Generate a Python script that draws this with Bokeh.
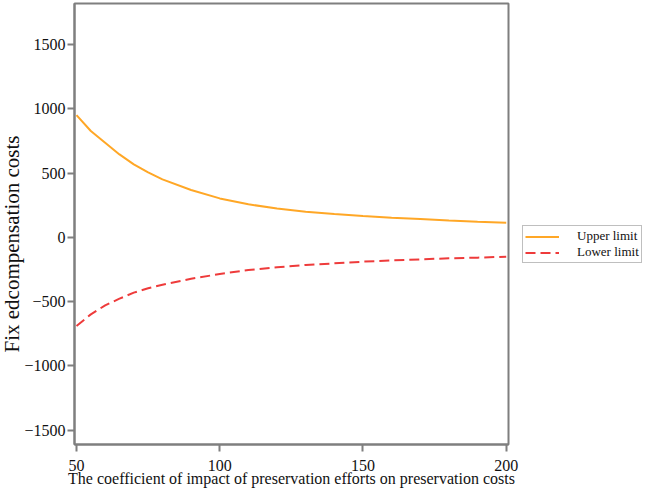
from bokeh.plotting import figure
from bokeh.models import Range1d, Legend, LegendItem, FixedTicker, Title
from bokeh.embed import file_html
from bokeh.resources import INLINE

x_vals = [50, 55, 60, 65, 70, 75, 80, 90, 100, 110, 120, 130, 140, 150, 160, 170, 180, 190, 200]
upper_limit = [951, 827, 736, 645, 568, 505, 451, 368, 303, 257, 225, 200, 181, 166, 153, 143, 132, 122, 114]
lower_limit = [-690, -599, -529, -477, -430, -396, -368, -322, -285, -254, -233, -215, -202, -189, -179, -171, -163, -158, -150]
x_ticks = [50, 100, 150, 200]
y_ticks = [-1500, -1000, -500, 0, 500, 1000, 1500]

FONT = "Liberation Serif"
AXIS_GRAY = "#7f7f7f"

p = figure(frame_width=434, frame_height=441, output_backend="svg", toolbar_location=None,
           x_range=Range1d(49.3, 200.8), y_range=Range1d(-1611, 1819),
           min_border_left=0, min_border_right=0, min_border_top=3, min_border_bottom=0)

p.xgrid.visible = False
p.ygrid.visible = False
p.outline_line_color = AXIS_GRAY
p.outline_line_width = 2

r_up = p.line(x_vals, upper_limit, line_color="#FFA726", line_width=2)
r_lo = p.line(x_vals, lower_limit, line_color="#EE3B3B", line_width=2, line_dash="10 5")

for ax in (p.xaxis[0], p.yaxis[0]):
    ax.axis_line_color = AXIS_GRAY
    ax.axis_line_width = 2
    ax.major_tick_line_color = AXIS_GRAY
    ax.major_tick_line_width = 2
    ax.major_tick_out = 7
    ax.major_tick_in = 0
    ax.minor_tick_line_color = None
    ax.major_label_text_font = FONT
    ax.major_label_text_font_size = "16px"
    ax.major_label_text_color = "#111111"
    ax.axis_label_text_font = FONT
    ax.axis_label_text_font_style = "normal"
    ax.axis_label_text_color = "#111111"

p.xaxis[0].ticker = FixedTicker(ticks=x_ticks)
p.yaxis[0].ticker = FixedTicker(ticks=y_ticks)
p.xaxis[0].axis_label = "The coefficient of impact of preservation efforts on preservation costs"
p.xaxis[0].axis_label_text_font_size = "16px"
p.xaxis[0].axis_label_standoff = -4
p.xaxis[0].major_label_standoff = 8
p.yaxis[0].major_label_standoff = 2

ytitle = Title(text="Fix edcompensation costs", align="left", offset=92,
               text_font=FONT, text_font_size="21px", text_font_style="normal",
               text_color="#111111", standoff=-5)
p.add_layout(ytitle, "left")

legend = Legend(items=[LegendItem(label="Upper limit", renderers=[r_up]),
                       LegendItem(label="Lower limit", renderers=[r_lo])],
                location=(14, 181), orientation="vertical")
legend.border_line_color = AXIS_GRAY
legend.border_line_width = 1
legend.padding = 2
legend.margin = 0
legend.spacing = 0
legend.glyph_width = 34
legend.glyph_height = 13
legend.label_height = 13
legend.label_standoff = 18
legend.label_text_font = FONT
legend.label_text_font_size = "13px"
legend.label_text_color = "#111111"
legend.background_fill_alpha = 1
p.add_layout(legend, "right")

open("out.html", "w").write(file_html(p, INLINE))
